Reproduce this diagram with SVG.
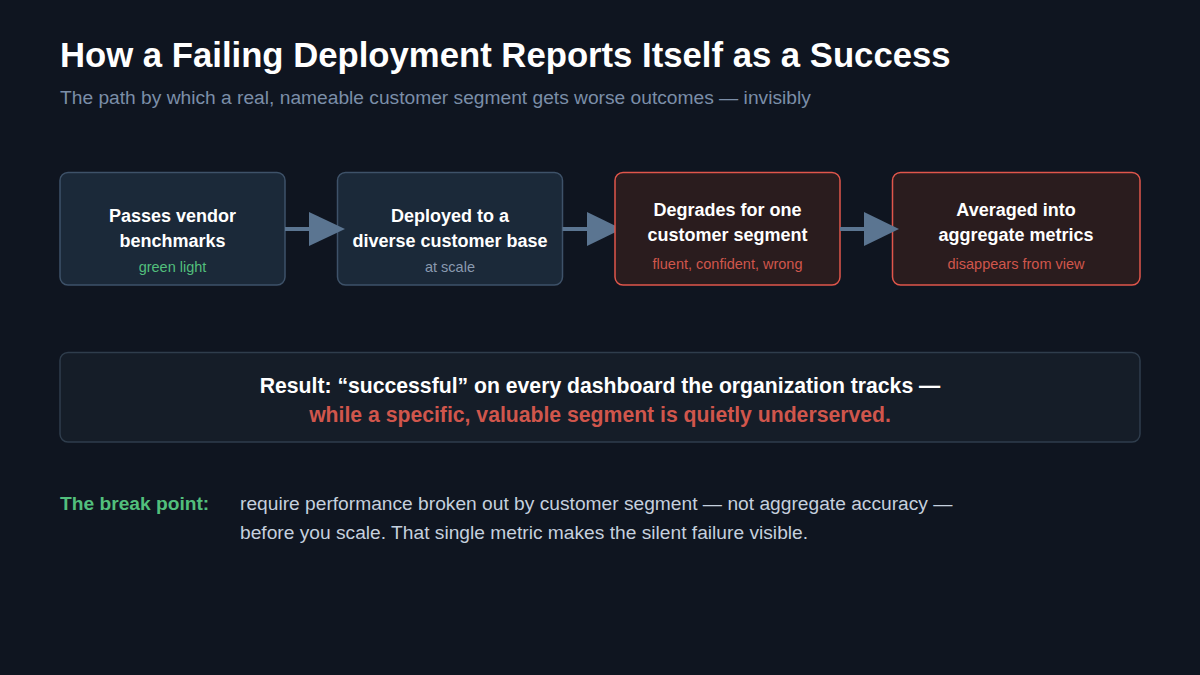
<svg xmlns="http://www.w3.org/2000/svg" width="1200" height="675" viewBox="0 0 1200 675">
<defs>
<style>
.bg{fill:#0f1520}
.t{font-family:"Liberation Sans",Arial,sans-serif}
.title{font-size:34.7px;font-weight:bold;fill:#ffffff}
.sub{font-size:19.2px;fill:#7b8ea8}
.nb{fill:#1b2939;stroke:#3e5269;stroke-width:1.5}
.nr{fill:#2a1c1e;stroke:#e0564b;stroke-width:1.5}
.nt{font-size:18px;font-weight:bold;fill:#ffffff;text-anchor:middle}
.ns{font-size:14.5px;text-anchor:middle}
.g{fill:#52bf7c}
.gray{fill:#8a9ab0}
.r{fill:#d0564c}
.conn line{stroke:#5b7591;stroke-width:4}
.conn polygon{fill:#5b7591}
.res{fill:#151d28;stroke:#2f3d4c;stroke-width:1.5}
.rt{font-size:21.2px;font-weight:bold;text-anchor:middle}
.bp{font-size:19.2px}
</style>
</defs>
<rect class="bg" x="0" y="0" width="1200" height="675"/>
<g id="header">
<text class="t title" x="60" y="67">How a Failing Deployment Reports Itself as a Success</text>
<text class="t sub" x="60" y="104">The path by which a real, nameable customer segment gets worse outcomes — invisibly</text>
</g>
<g id="node1">
<rect class="nb" x="60" y="172.5" width="225" height="112.5" rx="8"/>
<text class="t nt" x="172.5" y="221.5">Passes vendor</text>
<text class="t nt" x="172.5" y="246.5">benchmarks</text>
<text class="t ns g" x="172.5" y="272">green light</text>
</g>
<g id="node2">
<rect class="nb" x="337.5" y="172.5" width="225" height="112.5" rx="8"/>
<text class="t nt" x="450" y="221.5">Deployed to a</text>
<text class="t nt" x="450" y="246.5">diverse customer base</text>
<text class="t ns gray" x="450" y="272">at scale</text>
</g>
<g id="connectors" class="conn">
<line x1="285" y1="229" x2="312" y2="229"/>
<polygon points="309,212 345,229 309,246"/>
<line x1="562.5" y1="229" x2="590" y2="229"/>
<polygon points="587,212 622,229 587,246"/>
</g>
<g id="node3">
<rect class="nr" x="615" y="172.5" width="225" height="112.5" rx="8"/>
<text class="t nt" x="727.5" y="216">Degrades for one</text>
<text class="t nt" x="727.5" y="241">customer segment</text>
<text class="t ns r" x="727.5" y="269">fluent, confident, wrong</text>
</g>
<g id="node4">
<rect class="nr" x="892.5" y="172.5" width="247.5" height="112.5" rx="8"/>
<text class="t nt" x="1016" y="216">Averaged into</text>
<text class="t nt" x="1016" y="241">aggregate metrics</text>
<text class="t ns r" x="1016" y="269">disappears from view</text>
</g>
<g id="connectors2" class="conn">
<line x1="840" y1="229" x2="867" y2="229"/>
<polygon points="864,212 899,229 864,246"/>
</g>
<g id="result">
<rect class="res" x="60" y="352.5" width="1080" height="89.5" rx="8"/>
<text class="t rt" x="600" y="393" fill="#ffffff">Result: “successful” on every dashboard the organization tracks —</text>
<text class="t rt r" x="600" y="422">while a specific, valuable segment is quietly underserved.</text>
</g>
<g id="breakpoint">
<text class="t bp g" x="60" y="510" font-weight="bold">The break point:</text>
<text class="t bp" x="240" y="510" fill="#c5d0de">require performance broken out by customer segment — not aggregate accuracy —</text>
<text class="t bp" x="240" y="539" fill="#c5d0de">before you scale. That single metric makes the silent failure visible.</text>
</g>
</svg>
